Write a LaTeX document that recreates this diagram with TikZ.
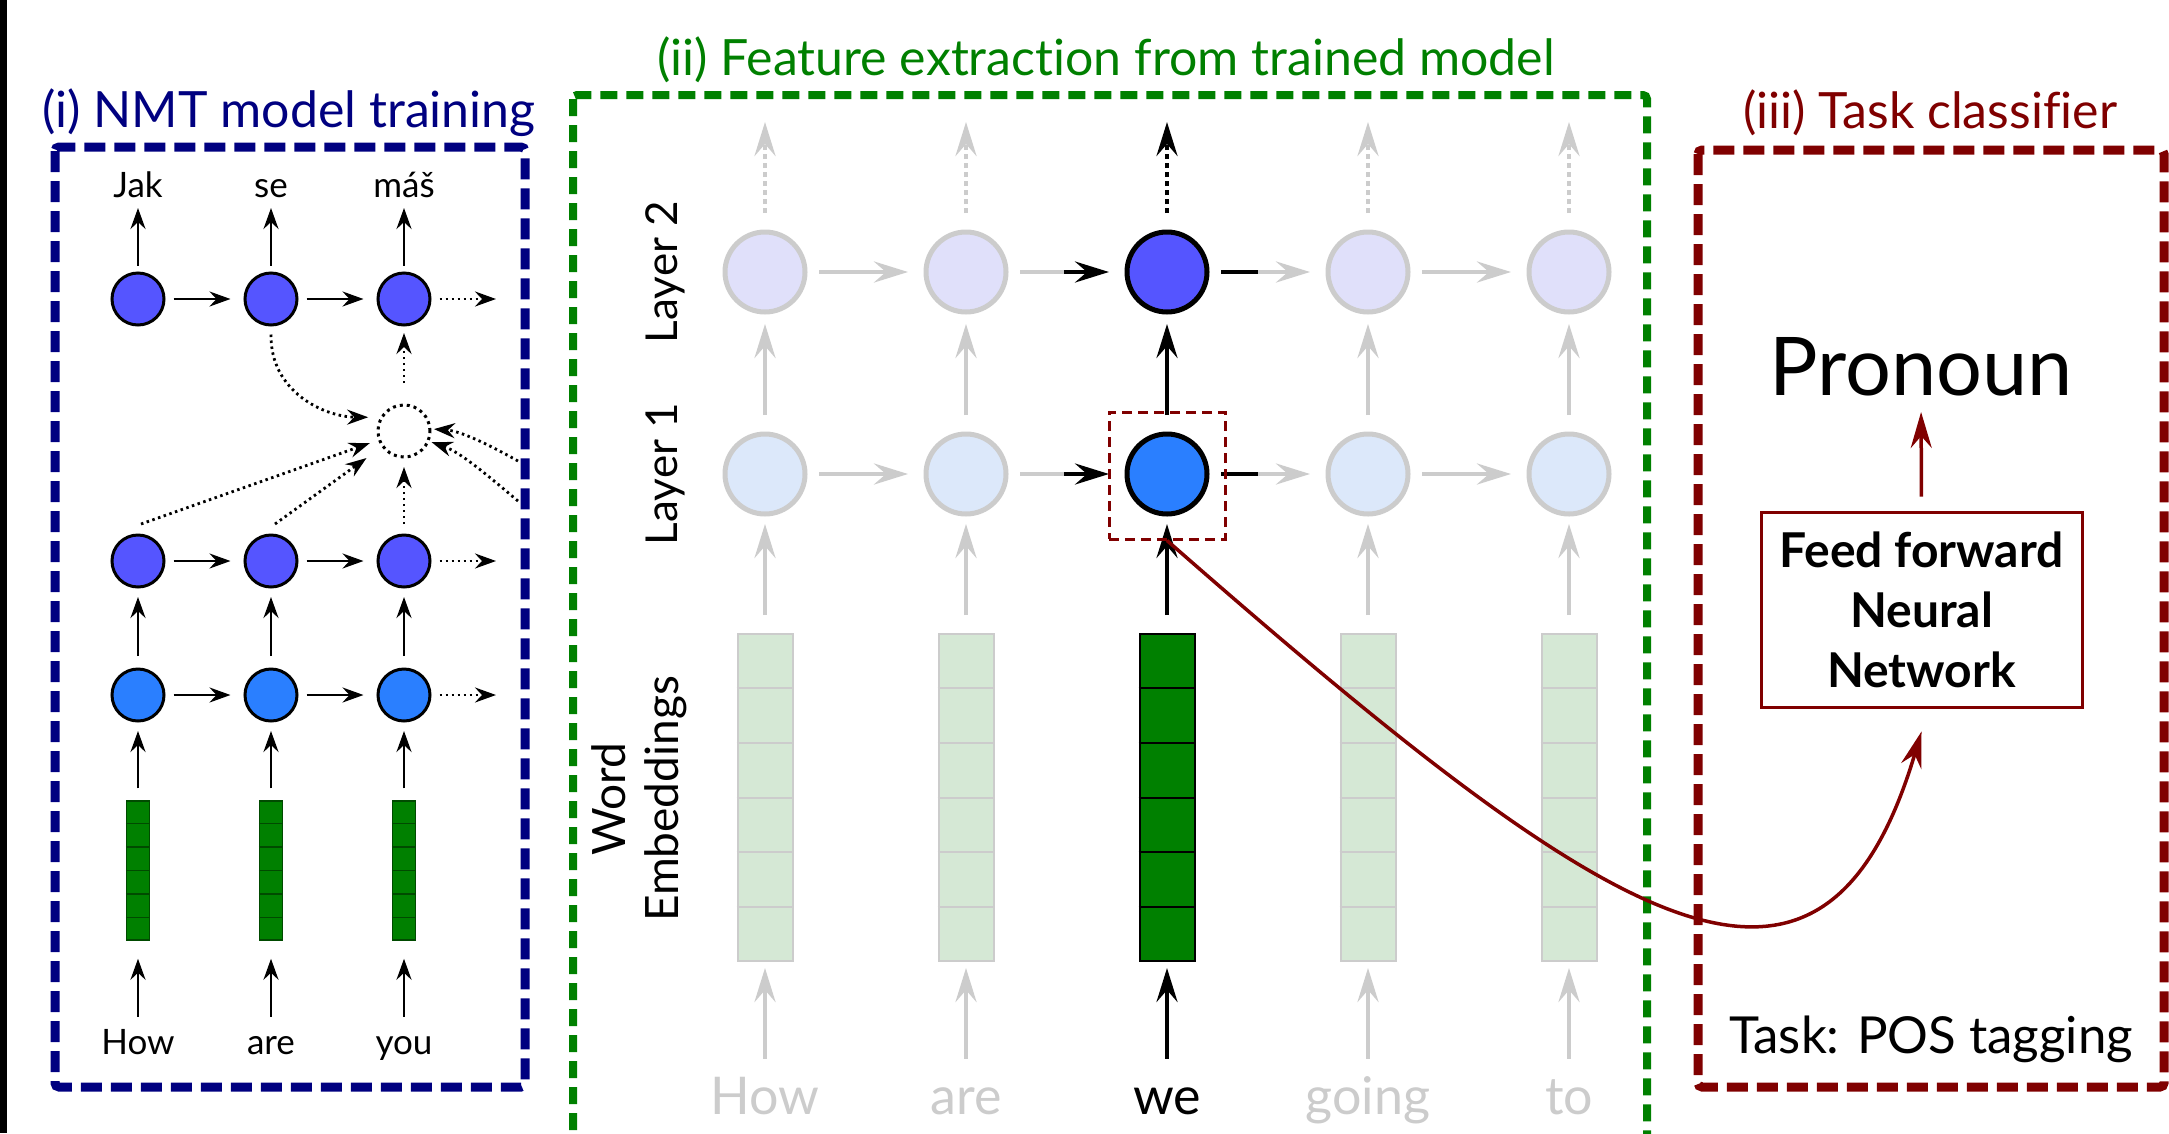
\documentclass[tikz,border=0pt]{standalone}
\usepackage{fontspec}
\setmainfont{Lato}[Ligatures=NoCommon]
\usetikzlibrary{arrows.meta,calc}

\definecolor{navyb}{HTML}{000080}
\definecolor{greenb}{HTML}{008000}
\definecolor{redb}{HTML}{800000}
\definecolor{decfill}{HTML}{5555FF}
\definecolor{encfill}{HTML}{2A7FFF}
\definecolor{fadetwo}{HTML}{E0E0FA}
\definecolor{fadeone}{HTML}{DCE8FA}
\definecolor{fadegray}{HTML}{CCCCCC}
\definecolor{fadebar}{HTML}{D5E8D5}
\definecolor{embgreen}{HTML}{008000}
\definecolor{embedge}{HTML}{004A00}

\begin{document}
\begin{tikzpicture}[x=1pt,y=-1pt,
  every node/.style={inner sep=0pt},
  boxline/.style={line width=9pt, dash pattern=on 21pt off 9pt, rounded corners=4pt},
  ttl/.style={font=\fontsize{50}{58}\selectfont, anchor=base west},
  % left panel
  lhead/.style={-{Stealth[length=21pt,width=15pt,inset=7pt]}, line width=2.8pt},
  ldot/.style={lhead, dash pattern=on 2.5pt off 3.5pt},
  dec/.style={circle, draw, line width=3pt, minimum size=52pt, fill=decfill},
  enc/.style={circle, draw, line width=3pt, minimum size=52pt, fill=encfill},
  attn/.style={circle, draw, line width=3pt, minimum size=52pt, dash pattern=on 3pt off 4pt},
  lword/.style={font=\fontsize{35}{41}\selectfont, anchor=base, text height=24pt, text depth=0pt},
  lbar/.style={draw=embedge, line width=1.5pt, fill=embgreen, minimum width=23pt, minimum height=139pt},
  % middle panel
  mhead/.style={-{Stealth[length=34pt,width=21pt,inset=12pt]}, line width=4.5pt},
  ftwo/.style={circle, draw=fadegray, fill=fadetwo, line width=5pt, minimum size=80pt},
  fone/.style={circle, draw=fadegray, fill=fadeone, line width=5pt, minimum size=80pt},
  atwo/.style={circle, draw=black, fill=decfill, line width=5pt, minimum size=80pt},
  aone/.style={circle, draw=black, fill=encfill, line width=5pt, minimum size=80pt},
  fbar/.style={draw=fadegray, fill=fadebar, line width=2pt, minimum width=55pt, minimum height=327pt},
  abar/.style={draw=black, fill=embgreen, line width=2pt, minimum width=55pt, minimum height=327pt},
  mword/.style={font=\fontsize{52}{62}\selectfont, anchor=base, text height=36pt, text depth=0pt},
  lab/.style={font=\fontsize{44}{52}\selectfont, rotate=90},
  % right panel
  rhead/.style={-{Stealth[length=36pt,width=21pt,inset=12pt]}, line width=3.5pt, draw=redb},
  ffnnbox/.style={draw=redb, line width=3pt, minimum width=321pt, minimum height=195pt,
    align=center, font=\bfseries\fontsize{48}{60}\selectfont}
]
\useasboundingbox (0,0) rectangle (2169,1133);
\clip (0,0) rectangle (2169,1133);
\fill[white] (0,0) rectangle (2169,1133);
\fill[black] (0,0) rectangle (7,1133);

% ---------- panel frames and titles ----------
\draw[boxline, navyb] (55,147) rectangle (525,1087);
\draw[boxline, greenb, line width=8pt, dash pattern=on 17pt off 9pt] (573,95) rectangle (1647,1180);
\draw[boxline, redb] (1698,150) rectangle (2164,1087);

\node[ttl, text=navyb] (t1) at (42,127) {(i) NMT model training};
\node[ttl, text=greenb] (t2) at (657,75) {(ii) Feature extraction from trained model};
\node[ttl, text=redb] (t3) at (1743,128) {(iii) Task classifier};

% ---------- (i) encoder-decoder with attention ----------
\foreach \i/\x/\top/\bot in {1/138/Jak/How, 2/271/se/are, 3/404/máš/you} {
  \node[lword] (lt\i) at (\x,197) {\top};
  \node[dec] (ld\i) at (\x,299) {};
  \node[dec] (le2\i) at (\x,561) {};
  \node[enc] (le1\i) at (\x,695) {};
  \node[lbar] (lb\i) at (\x,870.5) {};
  \node[lword] (lw\i) at (\x,1054) {\bot};
  \foreach \k in {1,...,5}
    \draw[embedge, line width=1.5pt] ($(lb\i.north west)!{\k/6}!(lb\i.south west)$) -- ($(lb\i.north east)!{\k/6}!(lb\i.south east)$);
  \draw[lhead, shorten <=6pt, shorten >=11pt] (ld\i.north) -- (lt\i.base);
  \draw[lhead, shorten <=11.5pt, shorten >=8.5pt] (le1\i.north) -- (le2\i.south);
  \draw[lhead, shorten <=12pt, shorten >=8.5pt] (lb\i.north) -- (le1\i.south);
  \draw[lhead, shorten <=13pt, shorten >=18pt] (lw\i.north) -- (lb\i.south);
}
\foreach \r in {ld,le2,le1} {
  \draw[lhead, shorten <=8pt, shorten >=13pt] (\r1.east) -- (\r2.west);
  \draw[lhead, shorten <=8pt, shorten >=13pt] (\r2.east) -- (\r3.west);
}
\coordinate (ldn) at (496,299);
\coordinate (le2n) at (496,561);
\coordinate (le1n) at (496,695);
\draw[ldot, shorten <=8pt] (ld3.east) -- (ldn);
\draw[ldot, shorten <=8pt] (le23.east) -- (le2n);
\draw[ldot, shorten <=8pt] (le13.east) -- (le1n);

\node[attn] (att) at (404,431) {};
\draw[ldot, shorten <=20.5pt, shorten >=6.5pt] (att.north) -- (ld3.south);
\draw[ldot, shorten <=9.5pt, shorten >=8.5pt] (le23.north) -- (att.south);
\draw[ldot, shorten >=8.7pt] ([yshift=9.5pt,xshift=3pt]le21.north) -- (att);
\draw[ldot, shorten >=18.7pt] ([yshift=9.5pt,xshift=4pt]le22.north) -- (att);
\draw[ldot] ([yshift=-8pt]ld2.south) .. controls (270,392) and (325,417) .. ([xshift=-12pt]att.150);
\coordinate (ra) at (518,461);
\coordinate (rb) at (518,501);
\draw[ldot] (ra) .. controls (486,443) and (460,431) .. ([xshift=2.5pt]att.4);
\draw[ldot] (rb) .. controls (486,474) and (460,452) .. ([xshift=2.5pt]att.-24);

% ---------- (ii) two-layer encoder, one word highlighted ----------
\foreach \i/\x/\w/\ta/\tb/\bs/\c in {1/765/How/ftwo/fone/fbar/fadegray,
    2/966/are/ftwo/fone/fbar/fadegray, 3/1167/we/atwo/aone/abar/black,
    4/1368/going/ftwo/fone/fbar/fadegray, 5/1569/to/ftwo/fone/fbar/fadegray} {
  \node[\ta] (mb\i) at (\x,272) {};
  \node[\tb] (ma\i) at (\x,474) {};
  \node[\bs] (me\i) at (\x,797.5) {};
  \node[mword, text=\c] (mw\i) at (\x,1114) {\w};
  \coordinate (mt\i) at (\x,122);
  \foreach \k in {1,...,5}
    \draw[\c, line width=2pt] ($(me\i.north west)!{\k/6}!(me\i.south west)$) -- ($(me\i.north east)!{\k/6}!(me\i.south east)$);
  \draw[mhead, \c, shorten <=19pt, shorten >=6pt] (mw\i.north) -- (me\i.south);
  \draw[mhead, \c, shorten <=18pt, shorten >=7.5pt] (me\i.north) -- (ma\i.south);
  \draw[mhead, \c, shorten <=16.5pt, shorten >=9.5pt] (ma\i.north) -- (mb\i.south);
  \draw[mhead, \c, dash pattern=on 5pt off 4pt, shorten <=16.5pt] (mb\i.north) -- (mt\i);
}
\foreach \r in {mb,ma} {
  \draw[mhead, fadegray, shorten <=11.5pt, shorten >=15.5pt] (\r1.east) -- (\r2.west);
  \draw[mhead, fadegray, shorten <=11.5pt, shorten >=15.5pt] (\r4.east) -- (\r5.west);
  \draw[fadegray, line width=4.5pt, shorten <=11.5pt] (\r2.east) -- ($(\r2.east)!0.48!(\r3.west)$);
  \draw[mhead, black, shorten >=15.5pt] ($(\r2.east)!0.48!(\r3.west)$) -- (\r3.west);
  \draw[black, line width=4.5pt, shorten <=11.5pt] (\r3.east) -- ($(\r3.east)!0.42!(\r4.west)$);
  \draw[mhead, fadegray, shorten >=15.5pt] ($(\r3.east)!0.42!(\r4.west)$) -- (\r4.west);
}

\node[lab] (lay2) at (665,272) {Layer 2};
\node[lab] (lay1) at (665,474) {Layer 1};
\node[font=\fontsize{46}{53}\selectfont, rotate=90, align=center] (wemb) at (639,799) {Word\\Embeddings};

\node[draw=redb, line width=3pt, dash pattern=on 10pt off 6pt, minimum width=116pt, minimum height=127pt] (sel) at (1167,475.5) {};

% ---------- (iii) classifier ----------
\node[font=\fontsize{81}{90}\selectfont, anchor=base] (pron) at (1921,395) {Pronoun};
\node[ffnnbox] (ffnn) at (1921.5,609.5) {Feed forward\\Neural\\Network};
\draw[rhead, shorten <=14pt, shorten >=17pt] (ffnn.north) -- (pron.base);
\node[font=\fontsize{51}{58}\selectfont, anchor=base west] (task) at (1729,1053) {Task: POS tagging};

\draw[rhead] (sel.south) .. controls (1617,935) and (1822,1065) .. ([yshift=-23pt]ffnn.south);
\end{tikzpicture}
\end{document}
